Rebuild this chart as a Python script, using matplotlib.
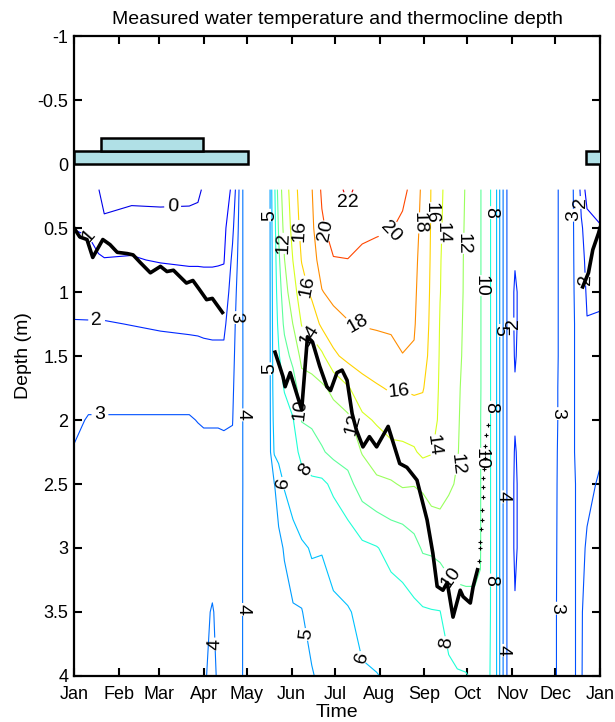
import matplotlib.pyplot as plt
import numpy as np
from matplotlib.patches import Rectangle

plt.rcParams['font.family'] = ['Liberation Sans', 'DejaVu Sans']

# day of year of each temperature profile
days = [0, 10, 17, 21, 40, 60, 80, 86, 90, 96, 100, 104, 110, 116, 118, 130,
        136, 139, 142, 146, 152, 158, 165, 172, 180, 190, 200, 210, 220, 228,
        236, 242, 248, 254, 260, 266, 272, 278, 282, 285, 290, 294, 298, 302,
        306, 312, 322, 334, 340, 346, 350, 352, 356, 365]
depths = [0.2, 0.5, 0.75, 1.0, 1.25, 1.5, 1.75, 2.0, 2.25, 2.5, 3.0, 3.5, 4.0]

# one profile (deg C) per day, top to bottom
temperature = [
    [0.55, 0.98, 1.35, 1.7, 2.05, 2.35, 2.6, 2.85, 3.05, 3.2, 3.4, 3.55, 3.65],
    [0.3, 0.93, 1.2, 1.65, 2.05, 2.4, 2.75, 3.05, 3.2, 3.3, 3.45, 3.6, 3.7],
    [0.05, 0.6, 1.1, 1.6, 2.05, 2.4, 2.75, 3.05, 3.2, 3.3, 3.45, 3.6, 3.7],
    [-0.6, 0.35, 1.05, 1.6, 2.05, 2.4, 2.75, 3.05, 3.2, 3.3, 3.45, 3.6, 3.7],
    [-0.5, 0.7, 1.05, 1.55, 1.98, 2.4, 2.75, 3.05, 3.2, 3.3, 3.45, 3.6, 3.7],
    [-0.5, 0.6, 0.95, 1.5, 1.9, 2.35, 2.75, 3.05, 3.2, 3.3, 3.5, 3.65, 3.75],
    [-0.45, 0.6, 0.9, 1.4, 1.85, 2.3, 2.75, 3.05, 3.2, 3.35, 3.55, 3.7, 3.8],
    [-0.3, 0.6, 0.9, 1.4, 1.85, 2.25, 2.7, 2.98, 3.2, 3.35, 3.6, 3.8, 3.85],
    [0.2, 0.7, 0.9, 1.35, 1.8, 2.25, 2.65, 2.95, 3.15, 3.35, 3.65, 3.85, 3.9],
    [0.3, 0.7, 0.9, 1.35, 1.8, 2.2, 2.6, 2.95, 3.15, 3.35, 3.7, 4.05, 4.2],
    [0.35, 0.72, 0.92, 1.35, 1.8, 2.2, 2.6, 2.95, 3.15, 3.35, 3.65, 3.85, 3.9],
    [0.4, 0.75, 0.95, 1.35, 1.8, 2.2, 2.6, 2.95, 3.1, 3.3, 3.6, 3.8, 3.9],
    [1.2, 1.8, 2.2, 2.5, 2.7, 2.8, 2.9, 2.98, 3.1, 3.2, 3.4, 3.7, 3.8],
    [3.6, 3.6, 3.6, 3.65, 3.65, 3.7, 3.7, 3.75, 3.75, 3.8, 3.85, 3.9, 3.9],
    [4.3, 4.3, 4.3, 4.25, 4.25, 4.2, 4.2, 4.2, 4.2, 4.15, 4.15, 4.1, 4.1],
    [4.7, 4.7, 4.65, 4.65, 4.6, 4.6, 4.6, 4.55, 4.55, 4.5, 4.5, 4.45, 4.4],
    [4.95, 4.95, 4.95, 4.93, 4.92, 4.9, 4.9, 4.88, 4.85, 4.8, 4.75, 4.65, 4.55],
    [7.5, 7.2, 7.0, 6.9, 6.8, 6.7, 6.6, 6.4, 6.1, 4.98, 4.8, 4.7, 4.6],
    [11.0, 10.2, 9.6, 9.0, 8.4, 7.8, 7.3, 6.9, 6.4, 5.3, 4.85, 4.75, 4.6],
    [13.0, 12.6, 11.95, 11.2, 10.4, 9.2, 8.1, 7.4, 6.8, 6.1, 5.05, 4.8, 4.65],
    [15.0, 14.6, 14.05, 13.2, 12.05, 10.6, 9.0, 7.9, 7.3, 6.5, 5.6, 4.9, 4.7],
    [17.0, 16.6, 16.1, 15.1, 14.1, 12.5, 11.2, 10.1, 8.5, 7.3, 5.8, 4.95, 4.75],
    [17.9, 17.6, 17.0, 16.4, 14.8, 12.9, 11.3, 10.3, 9.2, 7.6, 6.1, 5.5, 4.9],
    [20.3, 19.7, 19.0, 17.9, 16.4, 13.6, 11.7, 10.8, 9.8, 7.6, 6.05, 5.6, 5.3],
    [21.2, 20.8, 19.9, 18.6, 17.2, 15.6, 12.4, 11.3, 10.5, 8.4, 6.4, 5.8, 5.4],
    [22.4, 21.2, 19.95, 19.3, 17.8, 16.6, 13.8, 11.5, 10.8, 9.4, 6.9, 5.9, 5.7],
    [21.3, 20.4, 19.6, 19.0, 18.1, 17.0, 15.2, 13.6, 12.1, 10.9, 7.6, 6.3, 5.9],
    [21.0, 20.2, 19.5, 19.1, 18.2, 17.2, 15.8, 14.2, 13.0, 11.6, 7.9, 6.8, 5.95],
    [20.8, 20.1, 19.2, 18.8, 18.3, 17.4, 16.2, 14.9, 13.4, 11.8, 8.6, 7.0, 6.2],
    [20.5, 19.6, 19.1, 18.8, 18.5, 17.95, 16.1, 14.8, 13.6, 12.2, 8.7, 7.4, 6.4],
    [19.3, 18.9, 18.6, 18.4, 18.2, 17.8, 16.3, 15.0, 13.8, 12.1, 9.4, 7.6, 6.7],
    [17.5, 17.3, 17.1, 16.9, 16.7, 16.5, 16.1, 15.4, 14.4, 12.3, 10.2, 7.8, 6.9],
    [15.9, 15.85, 15.8, 15.75, 15.7, 15.6, 15.3, 14.9, 14.1, 12.9, 10.3, 7.9, 7.2],
    [14.3, 14.2, 14.1, 14.05, 13.9, 13.8, 13.7, 13.6, 13.3, 12.9, 10.6, 7.95, 7.5],
    [13.4, 13.3, 13.2, 13.1, 13.0, 12.9, 12.8, 12.6, 12.4, 12.3, 10.6, 9.2, 7.4],
    [12.6, 12.5, 12.45, 12.4, 12.35, 12.3, 12.2, 12.15, 12.1, 11.8, 10.5, 9.6, 7.8],
    [11.9, 11.85, 11.8, 11.8, 11.75, 11.7, 11.6, 11.5, 11.3, 11.0, 10.6, 9.6, 7.9],
    [11.0, 10.95, 10.9, 10.85, 10.8, 10.75, 10.7, 10.65, 10.6, 10.5, 10.3, 9.8, 8.3],
    [10.1, 10.1, 10.1, 10.1, 10.1, 10.1, 10.1, 10.05, 10.05, 10.05, 10.05, 9.9, 8.6],
    [9.3, 9.3, 9.3, 9.3, 9.3, 9.3, 9.3, 9.3, 9.3, 9.3, 9.3, 9.2, 8.8],
    [7.7, 7.7, 7.7, 7.7, 7.7, 7.7, 7.7, 7.7, 7.7, 7.7, 7.7, 7.7, 7.7],
    [5.6, 5.6, 5.6, 5.6, 5.6, 5.6, 5.6, 5.6, 5.6, 5.6, 5.6, 5.6, 5.6],
    [3.9, 3.9, 3.9, 3.9, 3.9, 3.9, 3.9, 3.9, 3.9, 3.9, 3.9, 3.9, 3.9],
    [2.4, 2.4, 2.4, 2.4, 2.4, 2.4, 2.4, 2.4, 2.4, 2.4, 2.4, 2.4, 2.4],
    [2.1, 2.1, 2.05, 1.9, 1.9, 1.95, 2.05, 2.05, 1.95, 1.9, 1.9, 2.05, 2.1],
    [2.3, 2.3, 2.3, 2.3, 2.3, 2.3, 2.3, 2.3, 2.3, 2.3, 2.3, 2.3, 2.3],
    [2.7, 2.7, 2.7, 2.75, 2.75, 2.75, 2.8, 2.8, 2.8, 2.85, 2.9, 2.95, 2.95],
    [2.9, 2.9, 2.9, 2.9, 2.9, 2.9, 2.92, 2.92, 2.94, 2.95, 2.96, 2.97, 2.97],
    [3.2, 3.2, 3.2, 3.2, 3.2, 3.2, 3.2, 3.2, 3.2, 3.2, 3.2, 3.2, 3.2],
    [3.05, 3.05, 3.05, 3.05, 3.05, 3.05, 3.05, 3.05, 3.05, 3.05, 3.05, 3.05, 3.05],
    [2.6, 2.75, 2.8, 2.85, 2.9, 2.9, 2.9, 2.9, 2.9, 2.95, 2.95, 2.95, 2.95],
    [1.5, 2.2, 2.5, 2.6, 2.7, 2.75, 2.8, 2.8, 2.85, 2.85, 2.9, 2.95, 2.95],
    [0.7, 1.3, 1.6, 1.85, 2.05, 2.3, 2.5, 2.65, 2.8, 2.9, 3.05, 3.2, 3.3],
    [0.6, 1.05, 1.5, 1.85, 2.1, 2.4, 2.6, 2.8, 2.95, 3.05, 3.3, 3.5, 3.6],
]
levels = [0, 1, 2, 3, 4, 5, 6, 8, 10, 12, 14, 16, 18, 20, 22]

# thermocline depth, under ice
tc_ice_day = [0, 4, 9, 13, 20, 25, 30, 37, 41, 46, 53, 60, 64.5, 69, 73.5,
              78, 82.5, 87, 92, 96, 103]
tc_ice_depth = [0.5, 0.57, 0.59, 0.73, 0.59, 0.63, 0.69, 0.70, 0.71, 0.77,
                0.85, 0.80, 0.84, 0.83, 0.88, 0.93, 0.91, 0.98, 1.06, 1.05,
                1.16]
# thermocline depth, open water season
tc_summer_day = [139.5, 145, 146.5, 150, 158, 162, 165.5, 170.5, 175.5, 178,
                 182.5, 186, 189.5, 193, 196, 200.5, 205, 210, 218, 226, 231,
                 238, 245, 249, 252, 256, 259, 263, 268, 270, 275, 277, 280]
tc_summer_depth = [1.47, 1.66, 1.74, 1.63, 1.92, 1.35, 1.39, 1.58, 1.74, 1.77,
                   1.63, 1.61, 1.69, 1.95, 2.08, 2.21, 2.13, 2.21, 2.05, 2.34,
                   2.37, 2.47, 2.78, 3.04, 3.30, 3.33, 3.27, 3.54, 3.33, 3.38,
                   3.43, 3.30, 3.17]
# sparse estimates during the autumn turnover
tc_turnover_day = [281, 281.5, 282, 282.5, 283, 283, 283.5, 284, 284, 284.5,
                   285, 285, 285.5, 286, 287]
tc_turnover_depth = [3.1, 3.0, 2.95, 2.85, 2.78, 2.7, 2.6, 2.52, 2.45, 2.38,
                     2.3, 2.26, 2.2, 2.12, 2.04]
# thermocline depth, new ice in December
tc_dec_day = [353, 357, 360, 364, 365]
tc_dec_depth = [0.96, 0.85, 0.67, 0.54, 0.5]

# ice and snow layers
ice_start = [0, 19, 355]
ice_end = [120.5, 89.5, 367]
ice_top = [-0.1, -0.2, -0.1]
ice_bottom = [0.0, -0.1, 0.0]

month_days = [0, 31, 59, 90, 120, 151, 181, 212, 243, 273, 304, 334, 365]
month_names = ['Jan', 'Feb', 'Mar', 'Apr', 'May', 'Jun', 'Jul', 'Aug', 'Sep',
               'Oct', 'Nov', 'Dec', 'Jan']
depth_ticks = [-1, -0.5, 0, 0.5, 1, 1.5, 2, 2.5, 3, 3.5, 4]

# where the contour labels sit (day, depth)
label_spots = [
    (68.7, 0.38), (13, 0.54), (16, 1.18), (18, 1.92), (113, 1.2),
    (117.5, 1.96), (119.5, 3.48), (99, 3.75), (134, 0.4), (136, 1.6),
    (156.8, 3.68), (148, 2.49), (203, 3.85), (164, 2.37), (257.5, 3.74),
    (159, 1.92), (264, 3.21), (145, 0.62), (184.6, 2.05), (271, 0.62),
    (269, 2.35), (161.7, 1.35), (256, 0.54), (255, 2.2), (156.8, 0.52),
    (226, 1.79), (249, 0.38), (163.8, 0.95), (203, 1.16), (238.7, 0.46),
    (176, 0.52), (190, 0.3), (224, 0.55), (283, 0.95), (284, 2.3),
    (289, 0.38), (289, 1.9), (289, 3.25), (297.7, 2.6), (297.7, 3.8),
    (295, 1.3), (306, 1.25), (337, 3.47), (338, 1.95), (347, 0.4),
    (353, 0.3), (352, 0.9),
]

fig = plt.figure(figsize=(6.15, 7.22), dpi=100)
ax = fig.add_axes([74 / 615, 1 - 676 / 722, 526 / 615, 640 / 722])

temp_grid = np.array(temperature).T
cs = ax.contour(days, depths, temp_grid, levels=levels, cmap='jet',
                vmin=-2.5, vmax=24.5, linewidths=0.8)
labels = ax.clabel(cs, fmt='%d', fontsize=14, colors='k', inline=True,
                   inline_spacing=3, manual=label_spots)
for t in labels:
    t.set_zorder(6)

for s, e, t, b in zip(ice_start, ice_end, ice_top, ice_bottom):
    ax.add_patch(Rectangle((s, t), e - s, b - t, facecolor='#b0e0e6',
                           edgecolor='k', linewidth=1.8, zorder=3))

ax.plot(tc_ice_day, tc_ice_depth, color='k', linewidth=2.6, zorder=4)
ax.plot(tc_summer_day, tc_summer_depth, color='k', linewidth=2.6, zorder=4)
ax.plot(tc_turnover_day, tc_turnover_depth, linestyle='none', marker='+',
        markersize=3, markeredgewidth=0.8, color='k', zorder=4)
ax.plot(tc_dec_day, tc_dec_depth, color='k', linewidth=2.6, zorder=4)

ax.set_xlim(0, 365)
ax.set_ylim(4, -1)
ax.set_xticks(month_days)
ax.set_xticklabels(month_names)
ax.set_yticks(depth_ticks)
ax.set_yticklabels(['%g' % v for v in depth_ticks])
ax.tick_params(direction='in', length=6, width=1.5, top=True, right=True,
               labelsize=13)
ax.tick_params(axis='x', pad=7)
ax.tick_params(axis='y', pad=4)
for sp in ax.spines.values():
    sp.set_linewidth(1.6)

ax.set_xlabel('Time', fontsize=14, labelpad=1)
ax.set_ylabel('Depth (m)', fontsize=14, labelpad=4)
ax.set_title('Measured water temperature and thermocline depth', fontsize=14,
             pad=9)

fig.savefig('out.png', dpi=100)
